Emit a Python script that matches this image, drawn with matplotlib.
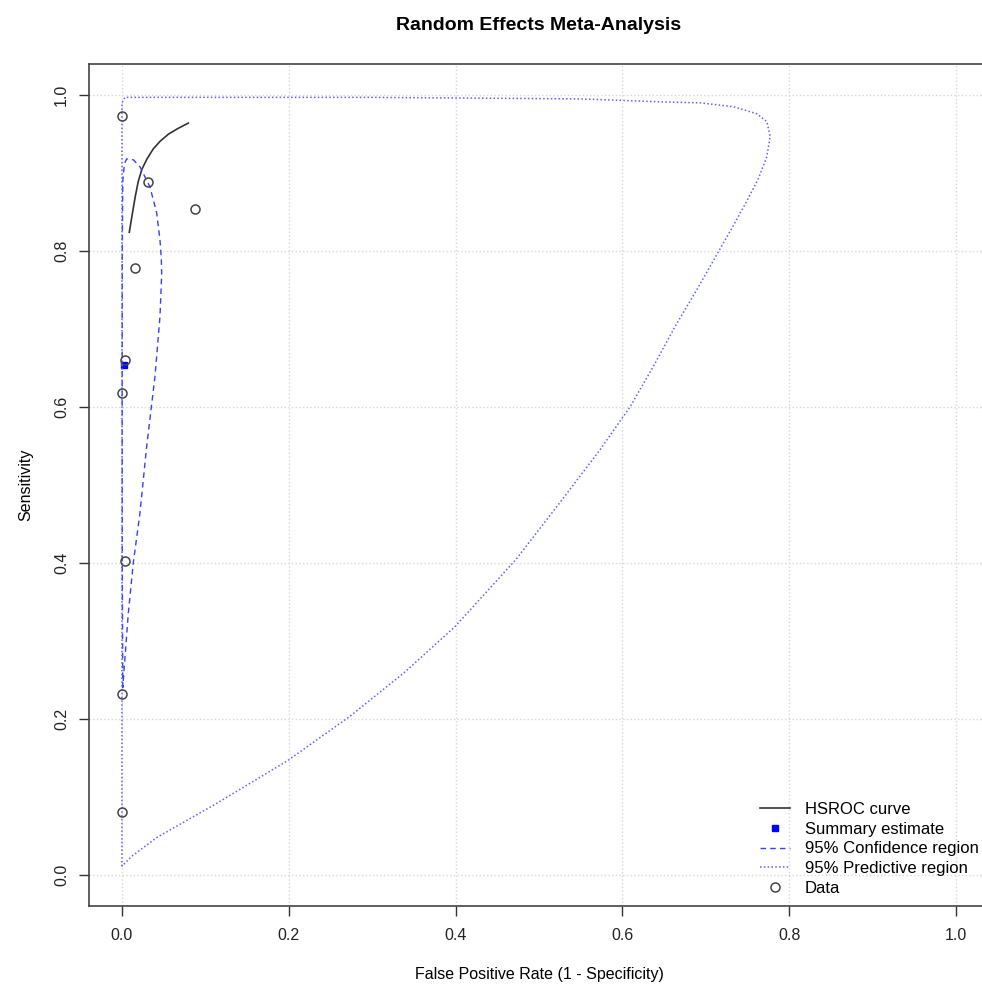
import numpy as np
import matplotlib
matplotlib.use("Agg")
import matplotlib.pyplot as plt

plt.rcParams['font.family'] = ['Liberation Sans', 'DejaVu Sans']

#-- data
study_fpr = [0.000, 0.031, 0.087, 0.016, 0.004, 0.000, 0.004, 0.000, 0.000]
study_sens = [0.973, 0.889, 0.854, 0.778, 0.660, 0.618, 0.402, 0.232, 0.080]

summary_fpr = [0.003]
summary_sens = [0.654]

hsroc_fpr = [0.0088, 0.0125, 0.0160, 0.0195, 0.0240, 0.0300, 0.0376, 0.0460,
             0.0560, 0.0670, 0.0795]
hsroc_sens = [0.824, 0.848, 0.870, 0.889, 0.905, 0.918, 0.931, 0.941,
              0.950, 0.957, 0.964]

conf_fpr = [0.0010, 0.0004, 0.0003, 0.0004, 0.0010, 0.0030, 0.0056, 0.0136, 0.0216,
            0.0336, 0.0416, 0.0456, 0.0472, 0.0476, 0.0456, 0.0396, 0.0296, 0.0216,
            0.0136, 0.0076, 0.0030, 0.0010]
conf_sens = [0.240, 0.400, 0.600, 0.800, 0.890, 0.912, 0.918, 0.917, 0.908,
             0.882, 0.849, 0.814, 0.790, 0.770, 0.716, 0.639, 0.549, 0.464,
             0.400, 0.335, 0.270, 0.240]

pred_fpr = [0.000, 0.000, 0.000, 0.0036, 0.300, 0.550, 0.653, 0.693, 0.733, 0.761,
            0.773, 0.777, 0.773, 0.763, 0.747, 0.731, 0.715, 0.690, 0.664, 0.637,
            0.609, 0.573, 0.524, 0.472, 0.399, 0.338, 0.273, 0.198, 0.111, 0.042,
            0.012, 0.000]
pred_sens = [0.011, 0.500, 0.990, 0.997, 0.997, 0.995, 0.991, 0.990, 0.985, 0.976,
             0.966, 0.947, 0.921, 0.893, 0.860, 0.829, 0.799, 0.752, 0.705, 0.652,
             0.600, 0.545, 0.476, 0.404, 0.318, 0.259, 0.203, 0.146, 0.090, 0.048,
             0.024, 0.011]

ticks = [0.0, 0.2, 0.4, 0.6, 0.8, 1.0]
tick_labels = ["0.0", "0.2", "0.4", "0.6", "0.8", "1.0"]

fig = plt.figure(figsize=(9.82, 9.85), dpi=100)
# R-like plot region; the right edge runs off the picture in the reference
ax = fig.add_axes([0.0902, 0.0802, 0.9175, 0.855])

ax.grid(True, color='#d8d8d8', linestyle=':', linewidth=1.0)
ax.set_axisbelow(True)

ax.plot(hsroc_fpr, hsroc_sens, color='#333333', linewidth=1.2, label='HSROC curve')
ax.plot(summary_fpr, summary_sens, linestyle='none', marker='s', markersize=5,
        color='#0000ff', label='Summary estimate')
ax.plot(conf_fpr, conf_sens, color='#3c3cff', linestyle=(0, (4, 3)), linewidth=1.0,
        label='95% Confidence region')
ax.plot(pred_fpr, pred_sens, color='#6060ff', linestyle=(0, (1, 1.5)), linewidth=1.1,
        label='95% Predictive region')
ax.plot(study_fpr, study_sens, linestyle='none', marker='o', markersize=6.5,
        markerfacecolor='none', markeredgecolor='#444444', markeredgewidth=1.1,
        label='Data')

ax.set_xlim(-0.04, 1.04)
ax.set_ylim(-0.04, 1.04)
ax.set_xticks(ticks)
ax.set_xticklabels(tick_labels)
ax.set_yticks(ticks)
ax.set_yticklabels(tick_labels, rotation=90, va='center')
ax.tick_params(direction='out', length=7, width=1, colors='#333333',
               labelsize=11.5, labelcolor='#222222', pad=9)
ax.tick_params(axis='y', pad=7)

for s in ax.spines.values():
    s.set_color('#444444')
    s.set_linewidth(1.2)

ax.set_xlabel('False Positive Rate (1 - Specificity)', fontsize=11.5, labelpad=17)
ax.set_ylabel('Sensitivity', fontsize=11.5, labelpad=15)
fig.text(0.548, 0.9745, 'Random Effects Meta-Analysis', fontsize=14,
         fontweight='bold', ha='center', va='center')

ax.legend(loc='upper left', bbox_to_anchor=(0.745, 0.1235), frameon=False,
          fontsize=12, borderpad=0, borderaxespad=0, handlelength=1.8,
          handletextpad=0.9, labelspacing=0.285, numpoints=1)

fig.savefig('out.png', dpi=100)
